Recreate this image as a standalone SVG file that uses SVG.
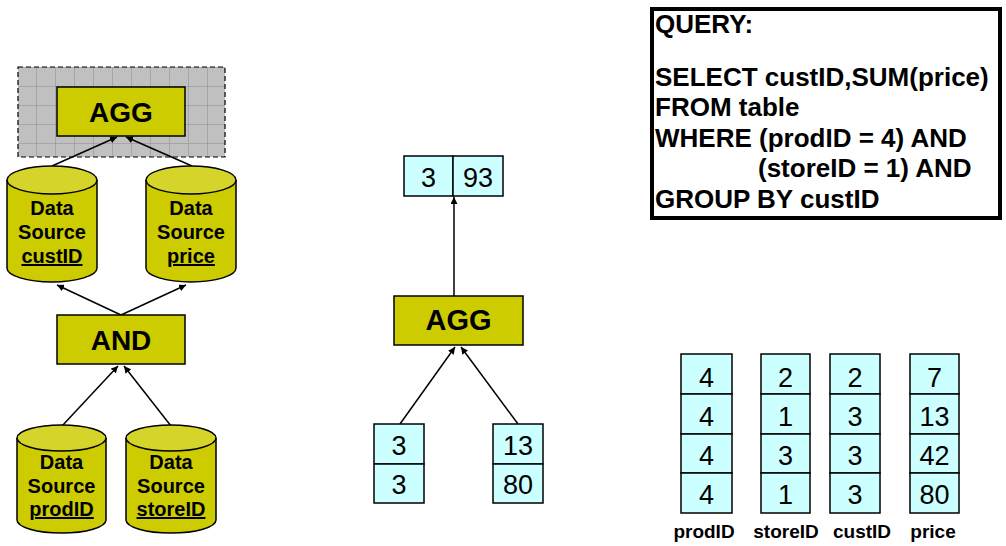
<svg xmlns="http://www.w3.org/2000/svg" width="1006" height="546" viewBox="0 0 1006 546">
<defs>
<style>
.y{fill:#CCCC00;stroke:#000;stroke-width:1.5}
.yt{fill:#D4D42A;stroke:#000;stroke-width:1.5}
.c{fill:#CCFFFF;stroke:#000;stroke-width:1.5}
.b{font-family:"Liberation Sans",Arial,sans-serif;font-weight:bold;text-anchor:middle;fill:#000}
.n{font-family:"Liberation Sans",Arial,sans-serif;text-anchor:middle;fill:#000;font-size:27px}
.q{font-family:"Liberation Sans",Arial,sans-serif;font-weight:bold;fill:#000;font-size:26px}
.ln{stroke:#000;stroke-width:1.5;fill:none;marker-end:url(#ah)}
</style>
<marker id="ah" viewBox="0 0 10 10" refX="10" refY="5" markerWidth="7" markerHeight="7" markerUnits="userSpaceOnUse" orient="auto">
<path d="M0,0 L10,5 L0,10 z" fill="#000"/>
</marker>
<pattern id="grid" patternUnits="userSpaceOnUse" x="17" y="67" width="19" height="19">
<rect width="19" height="19" fill="#C0C0C0"/>
<path d="M0,0 V19 M0,0 H19" stroke="#8C8C8C" stroke-width="1"/>
</pattern>
</defs>

<g id="group-bg">
<rect x="18" y="67" width="207" height="90" fill="url(#grid)" stroke="#000" stroke-width="1.2" stroke-dasharray="5,3"/>
</g>

<g id="connectors">
<line class="ln" x1="52" y1="166" x2="117" y2="137"/>
<line class="ln" x1="192" y1="166" x2="126" y2="137"/>
<line class="ln" x1="121" y1="315" x2="57" y2="285"/>
<line class="ln" x1="121" y1="315" x2="186" y2="285"/>
<line class="ln" x1="62" y1="426" x2="118" y2="366"/>
<line class="ln" x1="171" y1="426" x2="124" y2="366"/>
<line class="ln" x1="454" y1="296" x2="454" y2="197"/>
<line class="ln" x1="400" y1="424" x2="455" y2="347"/>
<line class="ln" x1="518" y1="424" x2="461" y2="347"/>
</g>

<g id="agg-left">
<rect class="y" x="57" y="87" width="128" height="49"/>
<text class="b" x="121" y="122" font-size="28">AGG</text>
</g>

<g id="ds-custID">
<path class="y" d="M7,180 V268 A45,14 0 0 0 97,268 V180"/>
<ellipse class="yt" cx="52" cy="180" rx="45" ry="14"/>
<text class="b" x="52" y="215" font-size="20">Data</text>
<text class="b" x="52" y="239" font-size="20">Source</text>
<text class="b" x="52" y="263" font-size="20" text-decoration="underline">custID</text>
</g>

<g id="ds-price">
<path class="y" d="M146,180 V268 A45,14 0 0 0 236,268 V180"/>
<ellipse class="yt" cx="191" cy="180" rx="45" ry="14"/>
<text class="b" x="191" y="215" font-size="20">Data</text>
<text class="b" x="191" y="239" font-size="20">Source</text>
<text class="b" x="191" y="263" font-size="20" text-decoration="underline">price</text>
</g>

<g id="and">
<rect class="y" x="57" y="315" width="128" height="49"/>
<text class="b" x="121" y="350" font-size="28">AND</text>
</g>

<g id="ds-prodID">
<path class="y" d="M17,438 V520 A44.5,13 0 0 0 106,520 V438"/>
<ellipse class="yt" cx="61.5" cy="438" rx="44.5" ry="13"/>
<text class="b" x="61.5" y="469" font-size="20">Data</text>
<text class="b" x="61.5" y="493" font-size="20">Source</text>
<text class="b" x="61.5" y="516" font-size="20" text-decoration="underline">prodID</text>
</g>

<g id="ds-storeID">
<path class="y" d="M126,438 V520 A45,13 0 0 0 216,520 V438"/>
<ellipse class="yt" cx="171" cy="438" rx="45" ry="13"/>
<text class="b" x="171" y="469" font-size="20">Data</text>
<text class="b" x="171" y="493" font-size="20">Source</text>
<text class="b" x="171" y="516" font-size="20" text-decoration="underline">storeID</text>
</g>

<g id="result">
<rect class="c" x="404" y="156" width="49" height="40"/>
<rect class="c" x="453" y="156" width="50" height="40"/>
<text class="n" x="428.5" y="187" font-size="26">3</text>
<text class="n" x="478" y="187" font-size="26">93</text>
</g>

<g id="agg-mid">
<rect class="y" x="394" y="296" width="129" height="49"/>
<text class="b" x="458.5" y="330" font-size="29">AGG</text>
</g>

<g id="col-left">
<rect class="c" x="374" y="424" width="50" height="40"/>
<rect class="c" x="374" y="464" width="50" height="39"/>
<text class="n" x="399" y="455">3</text>
<text class="n" x="399" y="494">3</text>
</g>

<g id="col-right">
<rect class="c" x="493" y="424" width="50" height="40"/>
<rect class="c" x="493" y="464" width="50" height="39"/>
<text class="n" x="518" y="455">13</text>
<text class="n" x="518" y="494">80</text>
</g>

<g id="query">
<rect x="652" y="9" width="348" height="209" fill="#fff" stroke="#000" stroke-width="4"/>
<text class="q" x="655" y="33">QUERY:</text>
<text class="q" x="655" y="86">SELECT custID,SUM(price)</text>
<text class="q" x="655" y="116">FROM table</text>
<text class="q" x="655" y="147">WHERE (prodID = 4) AND</text>
<text class="q" x="758" y="177">(storeID = 1) AND</text>
<text class="q" x="655" y="208">GROUP BY custID</text>
</g>

<g id="tbl-prodID">
<rect class="c" x="681" y="354" width="51" height="40"/>
<rect class="c" x="681" y="394" width="51" height="40"/>
<rect class="c" x="681" y="434" width="51" height="39"/>
<rect class="c" x="681" y="473" width="51" height="40"/>
<text class="n" x="706.5" y="387">4</text>
<text class="n" x="706.5" y="426">4</text>
<text class="n" x="706.5" y="465">4</text>
<text class="n" x="706.5" y="504">4</text>
<text class="b" x="704" y="538" font-size="19">prodID</text>
</g>

<g id="tbl-storeID">
<rect class="c" x="761" y="354" width="49" height="40"/>
<rect class="c" x="761" y="394" width="49" height="40"/>
<rect class="c" x="761" y="434" width="49" height="39"/>
<rect class="c" x="761" y="473" width="49" height="40"/>
<text class="n" x="785.5" y="387">2</text>
<text class="n" x="785.5" y="426">1</text>
<text class="n" x="785.5" y="465">3</text>
<text class="n" x="785.5" y="504">1</text>
<text class="b" x="786" y="538" font-size="19">storeID</text>
</g>

<g id="tbl-custID">
<rect class="c" x="830" y="354" width="50" height="40"/>
<rect class="c" x="830" y="394" width="50" height="40"/>
<rect class="c" x="830" y="434" width="50" height="39"/>
<rect class="c" x="830" y="473" width="50" height="40"/>
<text class="n" x="855" y="387">2</text>
<text class="n" x="855" y="426">3</text>
<text class="n" x="855" y="465">3</text>
<text class="n" x="855" y="504">3</text>
<text class="b" x="862" y="538" font-size="19">custID</text>
</g>

<g id="tbl-price">
<rect class="c" x="910" y="354" width="49" height="40"/>
<rect class="c" x="910" y="394" width="49" height="40"/>
<rect class="c" x="910" y="434" width="49" height="39"/>
<rect class="c" x="910" y="473" width="49" height="40"/>
<text class="n" x="934.5" y="387">7</text>
<text class="n" x="934.5" y="426">13</text>
<text class="n" x="934.5" y="465">42</text>
<text class="n" x="934.5" y="504">80</text>
<text class="b" x="933" y="538" font-size="19">price</text>
</g>
</svg>
